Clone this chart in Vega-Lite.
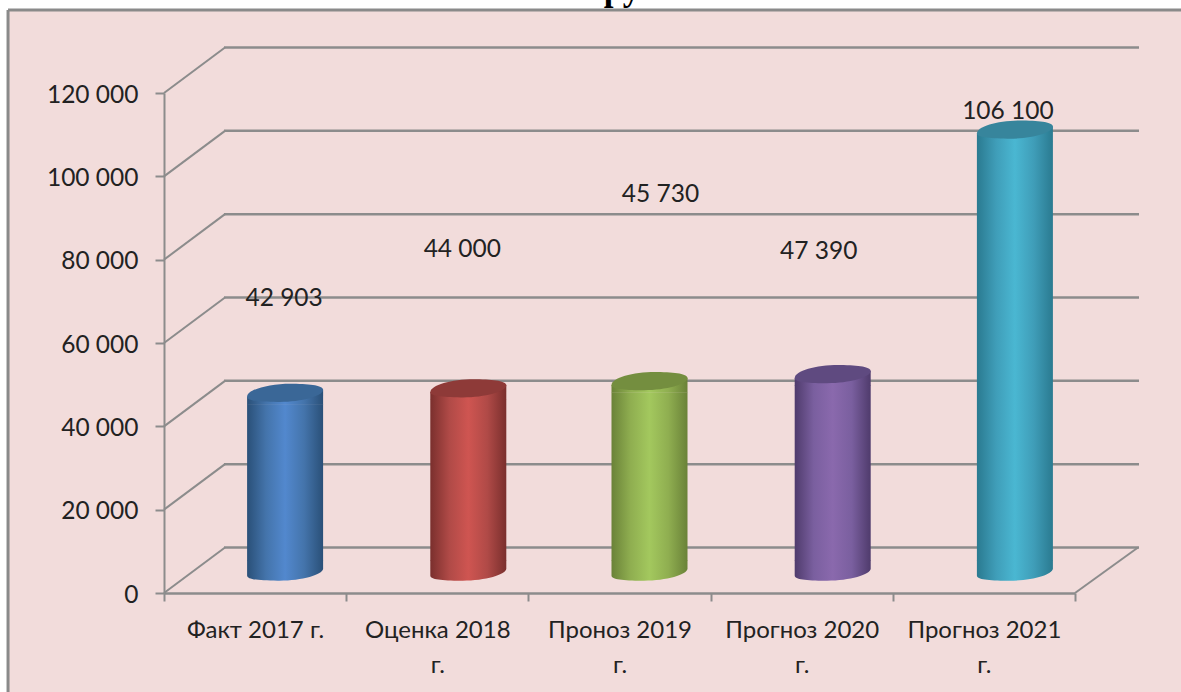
{
"$schema":"https://vega.github.io/schema/vega-lite/v6.json",
"width":1173,"height":682,
"autosize":"none",
"padding":{"left":8,"top":10,"right":0,"bottom":0},
"background":"#ffffff",
"view":{"fill":"#f2dcdb","stroke":null},
"config":{"locale":{"number":{"decimal":",","thousands":" ","grouping":[3],"currency":["",""]}},"text":{"font":"Lato"}},
"datasets":{
"bars":[
{"category":"Факт 2017 г.","value":42903},
{"category":"Оценка 2018 г.","value":44000},
{"category":"Проноз 2019 г.","value":45730},
{"category":"Прогноз 2020 г.","value":47390},
{"category":"Прогноз 2021 г.","value":106100}],
"grid":[{"tick":0},{"tick":20000},{"tick":40000},{"tick":60000},{"tick":80000},{"tick":100000},{"tick":120000}],
"frame":[{"edge":"frame"}],
"heading":[{"text":"ру"}]
},
"resolve":{"scale":{"x":"independent"}},
"layer":[
{"data":{"name":"frame"},"mark":{"type":"rule","color":"#8a8a8a","strokeWidth":3},
 "encoding":{"x":{"datum":-0.856,"type":"quantitative","scale":{"domain":[0,5],"range":[156,1067]},"axis":null},"y":{"datum":139920,"type":"quantitative","scale":{"domain":[0,120000],"range":[583,83]},"axis":{"orient":"left","offset":-156,"values":[0,20000,40000,60000,80000,100000,120000],"format":",d","title":null,"grid":false,"domainColor":"#8c8c8c","domainWidth":2,"tickColor":"#8c8c8c","tickWidth":2,"tickSize":9,"labelPadding":17,"labelOffset":2,"labelFont":"Lato","labelFontSize":24.5,"labelColor":"#222222"}},"y2":{"datum":-30000}}},
{"data":{"name":"frame"},"mark":{"type":"rule","color":"#8a8a8a","strokeWidth":3},
 "encoding":{"x":{"datum":-0.856,"type":"quantitative","scale":{"domain":[0,5],"range":[156,1067]},"axis":null},"x2":{"datum":6},"y":{"datum":139920,"type":"quantitative"}}},
{"data":{"name":"heading"},"mark":{"type":"text","font":"Liberation Serif","fontWeight":"bold","fontSize":35,"color":"#000000","align":"center","baseline":"alphabetic"},
 "encoding":{"x":{"datum":2.514,"type":"quantitative","scale":{"domain":[0,5],"range":[156,1067]},"axis":null},"y":{"datum":142320,"type":"quantitative"},"text":{"field":"text","type":"nominal"}}},
{"data":{"name":"grid"},"mark":{"type":"rule","color":"#8c8c8c","strokeWidth":2.5,"xOffset":60,"x2Offset":64,"yOffset":-45.5,"y2Offset":-45.5},
 "encoding":{"x":{"datum":0,"type":"quantitative","scale":{"domain":[0,5],"range":[156,1067]},"axis":null},"x2":{"datum":5},"y":{"field":"tick","type":"quantitative"}}},
{"data":{"name":"grid"},"mark":{"type":"rule","color":"#8c8c8c","strokeWidth":2,"x2Offset":61,"y2Offset":-45.5},
 "encoding":{"x":{"datum":0,"type":"quantitative","scale":{"domain":[0,5],"range":[156,1067]},"axis":null},"x2":{"datum":0},"y":{"field":"tick","type":"quantitative"},"y2":{"field":"tick"}}},
{"data":{"name":"frame"},"mark":{"type":"rule","color":"#8c8c8c","strokeWidth":2,"x2Offset":63,"y2Offset":-45.5},
 "encoding":{"x":{"datum":5,"type":"quantitative","scale":{"domain":[0,5],"range":[156,1067]},"axis":null},"x2":{"datum":5},"y":{"datum":0,"type":"quantitative"},"y2":{"datum":0}}},
{"data":{"name":"bars"},"mark":{"type":"bar","opacity":0},
 "encoding":{"x":{"field":"category","type":"nominal","sort":null,"scale":{"type":"band","paddingInner":0,"paddingOuter":0,"range":[156,1067]},"axis":{"orient":"bottom","offset":-99,"title":null,"labelAngle":0,"tickBand":"extent","domainColor":"#8c8c8c","domainWidth":2.5,"tickColor":"#8c8c8c","tickWidth":2,"tickSize":8,"labelPadding":17,"labelFont":"Lato","labelFontSize":24,"labelColor":"#222222","labelLimit":0,"labelLineHeight":35,"labelBaseline":"top","labelExpr":"length(datum.label)>12 ? [slice(datum.label,0,-3),'г.'] : datum.label"}},"y":{"field":"value","type":"quantitative"}}},
{"data":{"name":"bars"},"transform":[{"filter":"datum.category=='Факт 2017 г.'"}],"layer":[
 {"mark":{"type":"bar","size":76,"xOffset":30,"yOffset":-10,"y2Offset":-32,"color":{"gradient":"linear","x1":0,"x2":1,"y1":0,"y2":0,"stops":[{"offset":0,"color":"#2a5078"},{"offset":0.25,"color":"#4474ab"},{"offset":0.5,"color":"#5288ce"},{"offset":0.75,"color":"#4474ab"},{"offset":1,"color":"#2a5078"}]}},
  "encoding":{"y":{"field":"value","type":"quantitative"},"y2":{"datum":0}}},
 {"mark":{"type":"point","filled":true,"opacity":1,"size":5776,"xOffset":30,"yOffset":-21,"shape":"M-1,-0.3 L1,-0.3 L1,-0.09 C1,0.08 0.4,0.24 -0.2,0.23 C-0.7,0.22 -1,0.2 -1,0.09 Z","fill":{"gradient":"linear","x1":0,"x2":1,"y1":0,"y2":0,"stops":[{"offset":0,"color":"#2a5078"},{"offset":0.25,"color":"#4474ab"},{"offset":0.5,"color":"#5288ce"},{"offset":0.75,"color":"#4474ab"},{"offset":1,"color":"#2a5078"}]}},
  "encoding":{"y":{"datum":0,"type":"quantitative"}}},
 {"mark":{"type":"point","filled":true,"opacity":1,"size":5776,"xOffset":30,"yOffset":-21,"shape":"M-1,0.09 L1,-0.09 L1,0.3 L-1,0.3 Z","fill":{"gradient":"linear","x1":0,"x2":1,"y1":0,"y2":0,"stops":[{"offset":0,"color":"#2a5078"},{"offset":0.25,"color":"#4474ab"},{"offset":0.5,"color":"#5288ce"},{"offset":0.75,"color":"#4474ab"},{"offset":1,"color":"#2a5078"}]}},
  "encoding":{"y":{"field":"value","type":"quantitative"}}},
 {"mark":{"type":"point","filled":true,"opacity":1,"size":5776,"xOffset":30,"yOffset":-21,"shape":"M-1,0.09 C-1,-0.10 -0.4,-0.26 0.2,-0.25 C0.7,-0.24 1,-0.2 1,-0.09 C1,0.08 0.4,0.24 -0.2,0.23 C-0.7,0.22 -1,0.2 -1,0.09 Z","fill":"#3a6797"},
  "encoding":{"y":{"field":"value","type":"quantitative"}}},
 {"mark":{"type":"text","font":"Lato","fontSize":24.5,"color":"#222222","dx":29,"dy":-115},
  "encoding":{"y":{"field":"value","type":"quantitative"},"text":{"field":"value","type":"quantitative","format":",d"}}}
 ],"encoding":{"x":{"field":"category","type":"nominal","sort":null,"scale":{"type":"band","domain":["Факт 2017 г.","Оценка 2018 г.","Проноз 2019 г.","Прогноз 2020 г.","Прогноз 2021 г."],"paddingInner":0,"paddingOuter":0,"range":[156,1067]},"axis":null}}},
{"data":{"name":"bars"},"transform":[{"filter":"datum.category=='Оценка 2018 г.'"}],"layer":[
 {"mark":{"type":"bar","size":76,"xOffset":31,"yOffset":-10,"y2Offset":-32,"color":{"gradient":"linear","x1":0,"x2":1,"y1":0,"y2":0,"stops":[{"offset":0,"color":"#7a2f2d"},{"offset":0.25,"color":"#b04a47"},{"offset":0.5,"color":"#cf5551"},{"offset":0.75,"color":"#b04a47"},{"offset":1,"color":"#7a2f2d"}]}},
  "encoding":{"y":{"field":"value","type":"quantitative"},"y2":{"datum":0}}},
 {"mark":{"type":"point","filled":true,"opacity":1,"size":5776,"xOffset":31,"yOffset":-21,"shape":"M-1,-0.3 L1,-0.3 L1,-0.09 C1,0.08 0.4,0.24 -0.2,0.23 C-0.7,0.22 -1,0.2 -1,0.09 Z","fill":{"gradient":"linear","x1":0,"x2":1,"y1":0,"y2":0,"stops":[{"offset":0,"color":"#7a2f2d"},{"offset":0.25,"color":"#b04a47"},{"offset":0.5,"color":"#cf5551"},{"offset":0.75,"color":"#b04a47"},{"offset":1,"color":"#7a2f2d"}]}},
  "encoding":{"y":{"datum":0,"type":"quantitative"}}},
 {"mark":{"type":"point","filled":true,"opacity":1,"size":5776,"xOffset":31,"yOffset":-21,"shape":"M-1,0.09 L1,-0.09 L1,0.3 L-1,0.3 Z","fill":{"gradient":"linear","x1":0,"x2":1,"y1":0,"y2":0,"stops":[{"offset":0,"color":"#7a2f2d"},{"offset":0.25,"color":"#b04a47"},{"offset":0.5,"color":"#cf5551"},{"offset":0.75,"color":"#b04a47"},{"offset":1,"color":"#7a2f2d"}]}},
  "encoding":{"y":{"field":"value","type":"quantitative"}}},
 {"mark":{"type":"point","filled":true,"opacity":1,"size":5776,"xOffset":31,"yOffset":-21,"shape":"M-1,0.09 C-1,-0.10 -0.4,-0.26 0.2,-0.25 C0.7,-0.24 1,-0.2 1,-0.09 C1,0.08 0.4,0.24 -0.2,0.23 C-0.7,0.22 -1,0.2 -1,0.09 Z","fill":"#8e3a38"},
  "encoding":{"y":{"field":"value","type":"quantitative"}}},
 {"mark":{"type":"text","font":"Lato","fontSize":24.5,"color":"#222222","dx":25,"dy":-160},
  "encoding":{"y":{"field":"value","type":"quantitative"},"text":{"field":"value","type":"quantitative","format":",d"}}}
 ],"encoding":{"x":{"field":"category","type":"nominal","sort":null,"scale":{"type":"band","domain":["Факт 2017 г.","Оценка 2018 г.","Проноз 2019 г.","Прогноз 2020 г.","Прогноз 2021 г."],"paddingInner":0,"paddingOuter":0,"range":[156,1067]},"axis":null}}},
{"data":{"name":"bars"},"transform":[{"filter":"datum.category=='Проноз 2019 г.'"}],"layer":[
 {"mark":{"type":"bar","size":76,"xOffset":30,"yOffset":-10,"y2Offset":-32,"color":{"gradient":"linear","x1":0,"x2":1,"y1":0,"y2":0,"stops":[{"offset":0,"color":"#6a8238"},{"offset":0.25,"color":"#8fae50"},{"offset":0.5,"color":"#a3c85e"},{"offset":0.75,"color":"#8fae50"},{"offset":1,"color":"#6a8238"}]}},
  "encoding":{"y":{"field":"value","type":"quantitative"},"y2":{"datum":0}}},
 {"mark":{"type":"point","filled":true,"opacity":1,"size":5776,"xOffset":30,"yOffset":-21,"shape":"M-1,-0.3 L1,-0.3 L1,-0.09 C1,0.08 0.4,0.24 -0.2,0.23 C-0.7,0.22 -1,0.2 -1,0.09 Z","fill":{"gradient":"linear","x1":0,"x2":1,"y1":0,"y2":0,"stops":[{"offset":0,"color":"#6a8238"},{"offset":0.25,"color":"#8fae50"},{"offset":0.5,"color":"#a3c85e"},{"offset":0.75,"color":"#8fae50"},{"offset":1,"color":"#6a8238"}]}},
  "encoding":{"y":{"datum":0,"type":"quantitative"}}},
 {"mark":{"type":"point","filled":true,"opacity":1,"size":5776,"xOffset":30,"yOffset":-21,"shape":"M-1,0.09 L1,-0.09 L1,0.3 L-1,0.3 Z","fill":{"gradient":"linear","x1":0,"x2":1,"y1":0,"y2":0,"stops":[{"offset":0,"color":"#6a8238"},{"offset":0.25,"color":"#8fae50"},{"offset":0.5,"color":"#a3c85e"},{"offset":0.75,"color":"#8fae50"},{"offset":1,"color":"#6a8238"}]}},
  "encoding":{"y":{"field":"value","type":"quantitative"}}},
 {"mark":{"type":"point","filled":true,"opacity":1,"size":5776,"xOffset":30,"yOffset":-21,"shape":"M-1,0.09 C-1,-0.10 -0.4,-0.26 0.2,-0.25 C0.7,-0.24 1,-0.2 1,-0.09 C1,0.08 0.4,0.24 -0.2,0.23 C-0.7,0.22 -1,0.2 -1,0.09 Z","fill":"#748e3f"},
  "encoding":{"y":{"field":"value","type":"quantitative"}}},
 {"mark":{"type":"text","font":"Lato","fontSize":24.5,"color":"#222222","dx":41,"dy":-207},
  "encoding":{"y":{"field":"value","type":"quantitative"},"text":{"field":"value","type":"quantitative","format":",d"}}}
 ],"encoding":{"x":{"field":"category","type":"nominal","sort":null,"scale":{"type":"band","domain":["Факт 2017 г.","Оценка 2018 г.","Проноз 2019 г.","Прогноз 2020 г.","Прогноз 2021 г."],"paddingInner":0,"paddingOuter":0,"range":[156,1067]},"axis":null}}},
{"data":{"name":"bars"},"transform":[{"filter":"datum.category=='Прогноз 2020 г.'"}],"layer":[
 {"mark":{"type":"bar","size":76,"xOffset":31,"yOffset":-10,"y2Offset":-32,"color":{"gradient":"linear","x1":0,"x2":1,"y1":0,"y2":0,"stops":[{"offset":0,"color":"#4f3b6c"},{"offset":0.25,"color":"#7a5f9f"},{"offset":0.5,"color":"#8a69ad"},{"offset":0.75,"color":"#7a5f9f"},{"offset":1,"color":"#4f3b6c"}]}},
  "encoding":{"y":{"field":"value","type":"quantitative"},"y2":{"datum":0}}},
 {"mark":{"type":"point","filled":true,"opacity":1,"size":5776,"xOffset":31,"yOffset":-21,"shape":"M-1,-0.3 L1,-0.3 L1,-0.09 C1,0.08 0.4,0.24 -0.2,0.23 C-0.7,0.22 -1,0.2 -1,0.09 Z","fill":{"gradient":"linear","x1":0,"x2":1,"y1":0,"y2":0,"stops":[{"offset":0,"color":"#4f3b6c"},{"offset":0.25,"color":"#7a5f9f"},{"offset":0.5,"color":"#8a69ad"},{"offset":0.75,"color":"#7a5f9f"},{"offset":1,"color":"#4f3b6c"}]}},
  "encoding":{"y":{"datum":0,"type":"quantitative"}}},
 {"mark":{"type":"point","filled":true,"opacity":1,"size":5776,"xOffset":31,"yOffset":-21,"shape":"M-1,0.09 L1,-0.09 L1,0.3 L-1,0.3 Z","fill":{"gradient":"linear","x1":0,"x2":1,"y1":0,"y2":0,"stops":[{"offset":0,"color":"#4f3b6c"},{"offset":0.25,"color":"#7a5f9f"},{"offset":0.5,"color":"#8a69ad"},{"offset":0.75,"color":"#7a5f9f"},{"offset":1,"color":"#4f3b6c"}]}},
  "encoding":{"y":{"field":"value","type":"quantitative"}}},
 {"mark":{"type":"point","filled":true,"opacity":1,"size":5776,"xOffset":31,"yOffset":-21,"shape":"M-1,0.09 C-1,-0.10 -0.4,-0.26 0.2,-0.25 C0.7,-0.24 1,-0.2 1,-0.09 C1,0.08 0.4,0.24 -0.2,0.23 C-0.7,0.22 -1,0.2 -1,0.09 Z","fill":"#5f4a80"},
  "encoding":{"y":{"field":"value","type":"quantitative"}}},
 {"mark":{"type":"text","font":"Lato","fontSize":24.5,"color":"#222222","dx":17,"dy":-144},
  "encoding":{"y":{"field":"value","type":"quantitative"},"text":{"field":"value","type":"quantitative","format":",d"}}}
 ],"encoding":{"x":{"field":"category","type":"nominal","sort":null,"scale":{"type":"band","domain":["Факт 2017 г.","Оценка 2018 г.","Проноз 2019 г.","Прогноз 2020 г.","Прогноз 2021 г."],"paddingInner":0,"paddingOuter":0,"range":[156,1067]},"axis":null}}},
{"data":{"name":"bars"},"transform":[{"filter":"datum.category=='Прогноз 2021 г.'"}],"layer":[
 {"mark":{"type":"bar","size":76,"xOffset":31,"yOffset":-10,"y2Offset":-32,"color":{"gradient":"linear","x1":0,"x2":1,"y1":0,"y2":0,"stops":[{"offset":0,"color":"#2a7a90"},{"offset":0.25,"color":"#3f9db8"},{"offset":0.5,"color":"#4ab7d2"},{"offset":0.75,"color":"#3f9db8"},{"offset":1,"color":"#2a7a90"}]}},
  "encoding":{"y":{"field":"value","type":"quantitative"},"y2":{"datum":0}}},
 {"mark":{"type":"point","filled":true,"opacity":1,"size":5776,"xOffset":31,"yOffset":-21,"shape":"M-1,-0.3 L1,-0.3 L1,-0.09 C1,0.08 0.4,0.24 -0.2,0.23 C-0.7,0.22 -1,0.2 -1,0.09 Z","fill":{"gradient":"linear","x1":0,"x2":1,"y1":0,"y2":0,"stops":[{"offset":0,"color":"#2a7a90"},{"offset":0.25,"color":"#3f9db8"},{"offset":0.5,"color":"#4ab7d2"},{"offset":0.75,"color":"#3f9db8"},{"offset":1,"color":"#2a7a90"}]}},
  "encoding":{"y":{"datum":0,"type":"quantitative"}}},
 {"mark":{"type":"point","filled":true,"opacity":1,"size":5776,"xOffset":31,"yOffset":-21,"shape":"M-1,0.09 L1,-0.09 L1,0.3 L-1,0.3 Z","fill":{"gradient":"linear","x1":0,"x2":1,"y1":0,"y2":0,"stops":[{"offset":0,"color":"#2a7a90"},{"offset":0.25,"color":"#3f9db8"},{"offset":0.5,"color":"#4ab7d2"},{"offset":0.75,"color":"#3f9db8"},{"offset":1,"color":"#2a7a90"}]}},
  "encoding":{"y":{"field":"value","type":"quantitative"}}},
 {"mark":{"type":"point","filled":true,"opacity":1,"size":5776,"xOffset":31,"yOffset":-21,"shape":"M-1,0.09 C-1,-0.10 -0.4,-0.26 0.2,-0.25 C0.7,-0.24 1,-0.2 1,-0.09 C1,0.08 0.4,0.24 -0.2,0.23 C-0.7,0.22 -1,0.2 -1,0.09 Z","fill":"#37859c"},
  "encoding":{"y":{"field":"value","type":"quantitative"}}},
 {"mark":{"type":"text","font":"Lato","fontSize":24.5,"color":"#222222","dx":24,"dy":-39},
  "encoding":{"y":{"field":"value","type":"quantitative"},"text":{"field":"value","type":"quantitative","format":",d"}}}
 ],"encoding":{"x":{"field":"category","type":"nominal","sort":null,"scale":{"type":"band","domain":["Факт 2017 г.","Оценка 2018 г.","Проноз 2019 г.","Прогноз 2020 г.","Прогноз 2021 г."],"paddingInner":0,"paddingOuter":0,"range":[156,1067]},"axis":null}}}
]
}
